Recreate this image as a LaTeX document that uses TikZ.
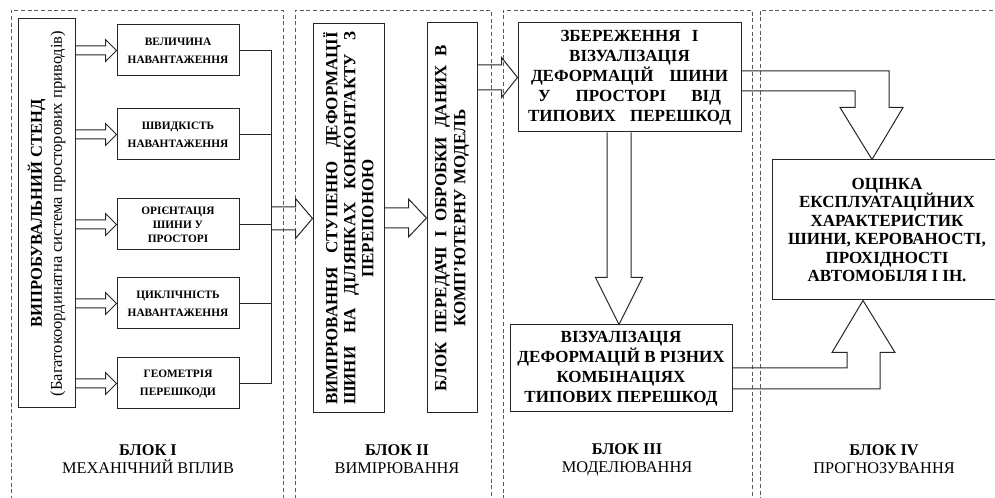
\documentclass[tikz,border=0pt]{standalone}
\usepackage{fontspec}
\setmainfont{Liberation Serif}
\usetikzlibrary{calc,positioning}

% hollow block arrow to the right: start, tip, shaft half width, head half width, head length
\newcommand{\rarrow}[5]{\draw[blockarrow] ($(#1 |- #2)+(0,-#3)$) -- ($(#2)+(-#5,-#3)$) -- ($(#2)+(-#5,-#4)$) -- (#2)
  -- ($(#2)+(-#5,#4)$) -- ($(#2)+(-#5,#3)$) -- ($(#1 |- #2)+(0,#3)$);}
% the same, pointing down
\newcommand{\darrow}[5]{\draw[blockarrow] ($(#1 -| #2)+(-#3,0)$) -- ($(#2)+(-#3,-#5)$) -- ($(#2)+(-#4,-#5)$) -- (#2)
  -- ($(#2)+(#4,-#5)$) -- ($(#2)+(#3,-#5)$) -- ($(#1 -| #2)+(#3,0)$);}

\begin{document}
\begin{tikzpicture}[x=0.75pt,y=-0.75pt,
  frame/.style={draw=black!65,dash pattern=on 3pt off 2pt,line width=0.6pt,minimum height=382.5pt},
  box/.style={draw=black!85,line width=0.75pt,inner sep=0pt,align=center,font=\fontsize{12.75}{15}\selectfont\bfseries},
  stub/.style={box,minimum width=91.5pt,minimum height=38.25pt,font=\fontsize{8.5}{13.5}\selectfont\bfseries},
  line/.style={draw=black!85,line width=0.75pt},
  blockarrow/.style={draw=black!85,line width=0.75pt},
  blocklabel/.style={align=center,font=\fontsize{12.25}{13.5}\selectfont}]
    \useasboundingbox (0,0) rectangle (995,498);

    % block frames
    \node[frame,minimum width=204pt] (fr1) at (147,265) {};
    \node[frame,minimum width=147pt] (fr2) at (393,265) {};
    \node[frame,minimum width=186.75pt] (fr3) at (627.5,265) {};
    \node[frame,minimum width=186pt] (fr4) at (884,265) {};

    % block I
    \node[box,rotate=90,minimum width=291.75pt,minimum height=42.75pt,font=\fontsize{12.4}{15}\selectfont] (stand) at (46.5,213.5)
        {\textbf{ВИПРОБУВАЛЬНИЙ СТЕНД}\\(Багатокоординатна система просторових приводів)};
    \node[stub] (v1) at (178,50.5) {ВЕЛИЧИНА\\НАВАНТАЖЕННЯ};
    \node[stub,below=24pt of v1] (v2) {ШВИДКІСТЬ\\НАВАНТАЖЕННЯ};
    \node[stub,below=28.5pt of v2,font=\fontsize{8.5}{10.5}\selectfont\bfseries] (v3) {ОРІЄНТАЦІЯ\\ШИНИ У\\ПРОСТОРІ};
    \node[stub,below=20.25pt of v3] (v4) {ЦИКЛІЧНІСТЬ\\НАВАНТАЖЕННЯ};
    \node[stub,below=21pt of v4] (v5) {ГЕОМЕТРІЯ\\ПЕРЕШКОДИ};
    \coordinate (bus) at (271,0);

    % block II
    \node[box,rotate=90,minimum width=291.75pt,minimum height=53.25pt,font=\fontsize{12.75}{13.5}\selectfont\bfseries] (meas) at (348.5,218.5)
        {\makebox[279.75pt][s]{ВИМІРЮВАННЯ СТУПЕНЮ ДЕФОРМАЦІЇ}\\\makebox[279.75pt][s]{ШИНИ НА ДІЛЯНКАХ КОНКОНТАКТУ З}\\ПЕРЕПОНОЮ};
    \node[box,rotate=90,minimum width=292.5pt,minimum height=37.5pt,font=\fontsize{12.75}{14.25}\selectfont\bfseries] (data) at (452,218)
        {\makebox[260pt][s]{БЛОК ПЕРЕДАЧІ І ОБРОБКИ ДАНИХ В}\\КОМП’ЮТЕРНУ МОДЕЛЬ};

    % block III
    \node[box,minimum width=167.25pt,minimum height=81.75pt] (save) at (629.5,77.5)
        {\makebox[103.5pt][s]{ЗБЕРЕЖЕННЯ І}\\ВІЗУАЛІЗАЦІЯ\\\makebox[147.75pt][s]{ДЕФОРМАЦІЙ ШИНИ}\\\makebox[137.25pt][s]{У ПРОСТОРІ ВІД}\\\makebox[152.25pt][s]{ТИПОВИХ ПЕРЕШКОД}};
    \node[box,minimum width=166.5pt,minimum height=65.25pt] (vis) at (621,368.5)
        {ВІЗУАЛІЗАЦІЯ\\ДЕФОРМАЦІЙ В РІЗНИХ\\КОМБІНАЦІЯХ\\ТИПОВИХ ПЕРЕШКОД};

    % block IV
    \node[box,minimum width=172.5pt,minimum height=105pt,font=\fontsize{12.75}{13.9}\selectfont\bfseries] (est) at (887,230)
        {ОЦІНКА\\ЕКСПЛУАТАЦІЙНИХ\\ХАРАКТЕРИСТИК\\ШИНИ, КЕРОВАНОСТІ,\\ПРОХІДНОСТІ\\АВТОМОБІЛЯ І ІН.};

    % captions
    \node[blocklabel] (lbl1) at (148,459.5) {\textbf{БЛОК I}\\МЕХАНІЧНИЙ ВПЛИВ};
    \node[blocklabel] (lbl2) at (397,459.5) {\textbf{БЛОК II}\\ВИМІРЮВАННЯ};
    \node[blocklabel] (lbl3) at (627,459.5) {\textbf{БЛОК III}\\МОДЕЛЮВАННЯ};
    \node[blocklabel] (lbl4) at (884,459.5) {\textbf{БЛОК IV}\\ПРОГНОЗУВАННЯ};

    % connectors
    \foreach \n in {1,...,5}
        \rarrow{stand.south}{v\n.west}{4.5}{11}{11};
    \draw[line] (v1.east) -- (v1.east -| bus) -- (v5.east -| bus) -- (v5.east);
    \foreach \n in {2,3,4}
        \draw[line] (v\n.east) -- (v\n.east -| bus);
    \rarrow{bus}{meas.north}{11.5}{20}{17}
    \rarrow{meas.south}{data.north}{10}{19}{18}
    \rarrow{data.south}{save.west}{12.5}{20}{16}
    \coordinate (vt) at ($(vis.north)+(-2,0)$);
    \darrow{save.south}{vt}{12}{23.5}{47}
    \coordinate (ta) at ($(est.north)+(-15,0)$);
    \coordinate (tb) at ($(est.south)+(-24,0)$);
    \draw[blockarrow] ($(save.east)+(0,-6.5)$) -| ($(ta)+(17,-52)$) -- ($(ta)+(31,-52)$) -- (ta)
        -- ($(ta)+(-32,-52)$) -- ($(ta)+(-17,-52)$) |- ($(save.east)+(0,13.5)$);
    \draw[blockarrow] ($(vis.east)+(0,-0.5)$) -| ($(tb)+(-16,52)$) -- ($(tb)+(-31,52)$) -- (tb)
        -- ($(tb)+(32,52)$) -- ($(tb)+(17,52)$) |- ($(vis.east)+(0,20.5)$);
\end{tikzpicture}
\end{document}
